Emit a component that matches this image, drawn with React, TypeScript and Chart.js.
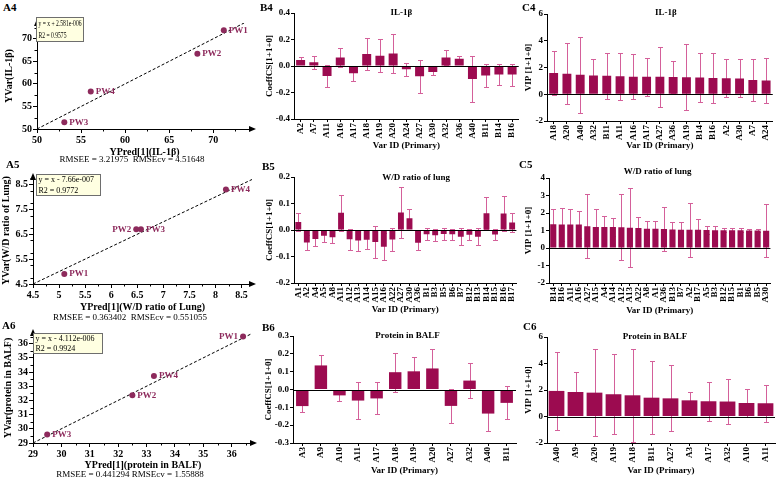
import React, { useEffect, useRef } from 'react';
import { Chart, registerables } from 'chart.js';

Chart.register(...registerables);

const SERIF = '"Liberation Serif", "Times New Roman", serif';
const BAR_COLOR = '#9c0b50';
const ERR_COLOR = '#d4609a';
const POINT_COLOR = '#8d2a5c';

// ---------- A panels (observed vs predicted) ----------
const A4_POINTS = ['PW1', 'PW2', 'PW4', 'PW3'];
const A4_YPRED = [71.2, 68.2, 56.1, 53.1];
const A4_YVAR = [71.9, 66.7, 58.3, 51.5];
const A4_FIT = [50, 73.5];
const A4_XTICKS = [50, 55, 60, 65, 70];
const A4_YTICKS = [50, 55, 60, 65, 70];
const A4_BOX = ['y = x + 2.581e-006', 'R2 = 0.9575'];
const A4_RMSE = 'RMSEE = 3.21975  RMSEcv = 4.51648';

const A5_POINTS = ['PW1', 'PW2', 'PW3', 'PW4'];
const A5_YPRED = [5.1, 6.48, 6.57, 8.2];
const A5_YVAR = [4.9, 6.7, 6.7, 8.3];
const A5_FIT = [4.5, 8.7];
const A5_XTICKS = [4.5, 5, 5.5, 6, 6.5, 7, 7.5, 8, 8.5];
const A5_YTICKS = [4.5, 5, 5.5, 6, 6.5, 7, 7.5, 8, 8.5];
const A5_BOX = ['y = x - 7.66e-007', 'R2 = 0.9772'];
const A5_RMSE = 'RMSEE = 0.363402  RMSEcv = 0.551055';

const A6_POINTS = ['PW1', 'PW4', 'PW2', 'PW3'];
const A6_YPRED = [36.4, 33.26, 32.5, 29.5];
const A6_YVAR = [36.5, 33.72, 32.36, 29.6];
const A6_FIT = [29, 36.7];
const A6_XTICKS = [29, 30, 31, 32, 33, 34, 35, 36];
const A6_YTICKS = [29, 30, 31, 32, 33, 34, 35, 36];
const A6_BOX = ['y = x - 4.112e-006', 'R2 = 0.9924'];
const A6_RMSE = 'RMSEE = 0.441294 RMSEcv = 1.55888';

// ---------- B panels (CoeffCS) ----------
const B4_CATS = ['A2', 'A7', 'A11', 'A16', 'A17', 'A18', 'A19', 'A20', 'A24', 'A27', 'A30', 'A32', 'A36', 'A40', 'B11', 'B14', 'B16'];
const B4_COEF = [0.045, 0.028, -0.075, 0.065, -0.055, 0.09, 0.078, 0.095, -0.025, -0.078, -0.045, 0.065, 0.055, -0.098, -0.072, -0.065, -0.065];
const B4_ERR = [0.02, 0.048, 0.085, 0.072, 0.055, 0.118, 0.122, 0.148, 0.05, 0.125, 0.02, 0.055, 0.02, 0.17, 0.09, 0.078, 0.083];
const B4_YTICKS = [-0.4, -0.2, 0, 0.2, 0.4];

const B5_CATS = ['A1', 'A2', 'A4', 'A5', 'A8', 'A11', 'A12', 'A13', 'A14', 'A15', 'A16', 'A22', 'A27', 'A30', 'A36', 'B1', 'B3', 'B5', 'B6', 'B7', 'B12', 'B13', 'B14', 'B15', 'B16', 'B17'];
const B5_COEF = [0.03, -0.047, -0.034, -0.022, -0.027, 0.065, -0.035, -0.04, -0.037, -0.045, -0.063, -0.036, 0.066, 0.044, -0.048, -0.016, -0.02, -0.015, -0.016, -0.025, -0.018, -0.025, 0.063, -0.017, 0.062, 0.028];
const B5_ERR = [0.033, 0.027, 0.025, 0.022, 0.021, 0.067, 0.039, 0.041, 0.036, 0.059, 0.051, 0.043, 0.098, 0.035, 0.026, 0.022, 0.023, 0.021, 0.021, 0.031, 0.021, 0.033, 0.06, 0.021, 0.065, 0.036];
const B5_YTICKS = [-0.2, -0.1, 0, 0.1, 0.2];

const B6_CATS = ['A3', 'A9', 'A10', 'A11', 'A17', 'A18', 'A19', 'A20', 'A27', 'A32', 'A40', 'B11'];
const B6_COEF = [-0.093, 0.135, -0.033, -0.062, -0.05, 0.097, 0.102, 0.118, -0.092, 0.05, -0.135, -0.075];
const B6_ERR = [0.035, 0.06, 0.03, 0.103, 0.09, 0.11, 0.082, 0.107, 0.097, 0.1, 0.098, 0.093];
const B6_YTICKS = [-0.3, -0.2, -0.1, 0, 0.1, 0.2, 0.3];

// ---------- C panels (VIP) ----------
const C4_CATS = ['A18', 'A20', 'A40', 'A32', 'B11', 'A11', 'A16', 'A17', 'A27', 'A36', 'A19', 'B14', 'B16', 'A2', 'A30', 'A7', 'A24'];
const C4_VIP = [1.58, 1.53, 1.45, 1.4, 1.38, 1.35, 1.31, 1.3, 1.3, 1.29, 1.27, 1.25, 1.22, 1.2, 1.18, 1.07, 1.03];
const C4_ERR = [1.65, 2.28, 2.85, 1.2, 1.72, 1.76, 1.7, 1.44, 2.25, 1.2, 2.45, 1.83, 1.85, 1.43, 1.42, 1.6, 1.67];
const C4_YTICKS = [-2, 0, 2, 4, 6];

const C5_CATS = ['B14', 'B16', 'A11', 'A16', 'A27', 'A15', 'A4', 'A14', 'A12', 'A13', 'A22', 'A8', 'A1', 'A36', 'B13', 'B7', 'A2', 'B17', 'A5', 'B3', 'B12', 'B15', 'B1', 'B6', 'B5', 'A30'];
const C5_VIP = [1.36, 1.35, 1.35, 1.35, 1.25, 1.2, 1.2, 1.2, 1.18, 1.16, 1.15, 1.1, 1.1, 1.08, 1.06, 1.05, 1.05, 1.05, 1.03, 1.02, 1.02, 1.01, 1.01, 1.0, 1.0, 0.99];
const C5_ERR = [0.85, 0.96, 0.85, 0.78, 1.83, 1.0, 0.65, 0.52, 1.88, 2.25, 0.65, 0.43, 0.43, 1.25, 0.42, 0.41, 1.55, 0.58, 0.22, 0.23, 0.13, 0.11, 0.11, 0.11, 0.11, 1.52];
const C5_YTICKS = [-2, -1, 0, 1, 2, 3, 4];

const C6_CATS = ['A40', 'A9', 'A20', 'A19', 'A18', 'B11', 'A27', 'A3', 'A17', 'A32', 'A10', 'A11'];
const C6_VIP = [1.93, 1.85, 1.8, 1.68, 1.6, 1.42, 1.37, 1.22, 1.15, 1.13, 1.02, 1.0];
const C6_ERR = [2.93, 1.5, 3.28, 3.0, 3.5, 2.77, 2.5, 0.63, 1.47, 1.7, 1.05, 1.4];
const C6_YTICKS = [-2, 0, 2, 4, 6];

const TITLE_IL = 'IL-1β';
const TITLE_WD = 'W/D ratio of lung';
const TITLE_PB = 'Protein in BALF';
const X_BAR_TITLE = 'Var ID (Primary)';
const Y_COEF_TITLE = 'CoeffCS[1+1+0]';
const Y_VIP_TITLE = 'VIP [1+1+0]';

function minorsOf(ticks: number[], max: number) {
  const out: number[] = [];
  for (let i = 0; i < ticks.length - 1; i++) out.push((ticks[i] + ticks[i + 1]) / 2);
  const step = ticks[1] - ticks[0];
  const last = ticks[ticks.length - 1] + step / 2;
  if (last < max) out.push(last);
  return out;
}

function scatterConfig(p: any) {
  const xMinor = minorsOf(p.xticks, p.xmax);
  const yMinor = minorsOf(p.yticks, p.ymax);
  const decor = {
    id: 'scatterDecor',
    afterDraw(chart: any) {
      const ctx = chart.ctx;
      const { left, right, top, bottom } = chart.chartArea;
      const xs = chart.scales.x;
      const ys = chart.scales.y;
      ctx.save();
      ctx.fillStyle = '#000';
      ctx.strokeStyle = '#000';
      ctx.lineWidth = 1;
      ctx.beginPath();
      ctx.moveTo(left, top - 4);
      ctx.lineTo(left - 3, top + 3);
      ctx.lineTo(left + 3, top + 3);
      ctx.closePath();
      ctx.fill();
      ctx.beginPath();
      ctx.moveTo(right + 4, bottom);
      ctx.lineTo(right - 3, bottom - 3);
      ctx.lineTo(right - 3, bottom + 3);
      ctx.closePath();
      ctx.fill();
      ctx.beginPath();
      for (const v of xMinor) {
        const x = Math.round(xs.getPixelForValue(v)) + 0.5;
        ctx.moveTo(x, bottom);
        ctx.lineTo(x, bottom + 2.5);
      }
      for (const v of yMinor) {
        const y = Math.round(ys.getPixelForValue(v)) + 0.5;
        ctx.moveTo(left, y);
        ctx.lineTo(left - 2.5, y);
      }
      ctx.stroke();

      // point labels
      const meta = chart.getDatasetMeta(0);
      ctx.font = `bold 9px ${SERIF}`;
      ctx.fillStyle = POINT_COLOR;
      ctx.textBaseline = 'middle';
      meta.data.forEach((el: any, i: number) => {
        const side = p.sides[i];
        ctx.textAlign = side === 'l' ? 'right' : 'left';
        ctx.fillText(p.names[i], el.x + (side === 'l' ? -5 : 5), el.y);
      });

      // equation box
      const bx = Math.round(left + p.box.dx) + 0.5;
      const by = Math.round(top + p.box.dy) + 0.5;
      const bw = p.box.w;
      const bh = p.box.h;
      ctx.fillStyle = '#ffffe1';
      ctx.fillRect(bx, by, bw, bh);
      ctx.strokeStyle = '#6e6e6e';
      ctx.strokeRect(bx, by, bw, bh);
      ctx.font = `8px ${SERIF}`;
      ctx.fillStyle = '#000';
      ctx.textAlign = 'left';
      const widest = Math.max(...p.boxLines.map((s: string) => ctx.measureText(s).width));
      const sx = Math.min(1, (bw - 4) / widest);
      p.boxLines.forEach((s: string, i: number) => {
        ctx.save();
        ctx.translate(bx + 2, by + bh * (i * 2 + 1) / 4 + 0.5);
        ctx.scale(sx, 1);
        ctx.fillText(s, 0, 0);
        ctx.restore();
      });
      ctx.restore();
    },
  };
  const tickFont = { family: SERIF, size: 10, weight: 'bold' as const };
  const titleFont = { family: SERIF, size: 10, weight: 'bold' as const };
  return {
    type: 'scatter' as const,
    data: {
      datasets: [
        {
          data: p.xs.map((x: number, i: number) => ({ x, y: p.ys[i] })),
          backgroundColor: POINT_COLOR,
          borderColor: POINT_COLOR,
          pointRadius: 3,
          borderWidth: 0,
        },
        {
          type: 'line' as const,
          data: p.fit.map((v: number) => ({ x: v, y: v })),
          borderColor: '#000',
          borderWidth: 1,
          borderDash: [3, 2],
          pointRadius: 0,
          fill: false,
        },
      ],
    },
    options: {
      responsive: false,
      animation: false as const,
      devicePixelRatio: 1,
      layout: { padding: { top: p.padTop, right: p.padRight, left: 0, bottom: 0 } },
      plugins: { legend: { display: false }, tooltip: { enabled: false } },
      scales: {
        x: {
          type: 'linear' as const,
          min: p.xmin,
          max: p.xmax,
          afterBuildTicks: (ax: any) => { ax.ticks = p.xticks.map((v: number) => ({ value: v })); },
          afterFit: (s: any) => { s.height = p.xH; },
          grid: { drawOnChartArea: false, tickLength: 4, color: '#000' },
          border: { color: '#000', width: 1 },
          ticks: { font: tickFont, color: '#000', padding: 1, maxRotation: 0, callback: (v: any) => String(v) },
          title: { display: true, text: p.xTitle, font: titleFont, color: '#000', padding: { top: 0, bottom: 2 } },
        },
        y: {
          type: 'linear' as const,
          min: p.ymin,
          max: p.ymax,
          afterBuildTicks: (ax: any) => { ax.ticks = p.yticks.map((v: number) => ({ value: v })); },
          afterFit: (s: any) => { s.width = p.yW; },
          grid: { drawOnChartArea: false, tickLength: 4, color: '#000' },
          border: { color: '#000', width: 1 },
          ticks: { font: tickFont, color: '#000', padding: 1, callback: (v: any) => String(v) },
          title: { display: true, text: p.yTitle, font: titleFont, color: '#000', padding: { top: p.yTitlePad, bottom: 0 } },
        },
      },
    },
    plugins: [decor],
  };
}

function barConfig(p: any) {
  const decor = {
    id: 'barDecor',
    beforeDatasetsDraw(chart: any) {
      const ctx = chart.ctx;
      const ys = chart.scales.y;
      const meta = chart.getDatasetMeta(0);
      ctx.save();
      ctx.strokeStyle = ERR_COLOR;
      ctx.lineWidth = 1;
      meta.data.forEach((el: any, i: number) => {
        const v = p.vals[i];
        const e = p.errs[i];
        const x = Math.round(el.x) + 0.5;
        const y1 = Math.round(ys.getPixelForValue(v - e)) + 0.5;
        const y2 = Math.round(ys.getPixelForValue(v + e)) + 0.5;
        ctx.beginPath();
        ctx.moveTo(x, y1);
        ctx.lineTo(x, y2);
        ctx.moveTo(x - 2.5, y1);
        ctx.lineTo(x + 2.5, y1);
        ctx.moveTo(x - 2.5, y2);
        ctx.lineTo(x + 2.5, y2);
        ctx.stroke();
      });
      ctx.restore();
    },
    afterDatasetsDraw(chart: any) {
      const ctx = chart.ctx;
      const { left, right, top } = chart.chartArea;
      const ys = chart.scales.y;
      const y0 = Math.round(ys.getPixelForValue(0)) + 0.5;
      ctx.save();
      ctx.strokeStyle = '#000';
      ctx.lineWidth = 1.2;
      ctx.beginPath();
      ctx.moveTo(left, y0);
      ctx.lineTo(right, y0);
      ctx.stroke();
      ctx.font = `bold 9px ${SERIF}`;
      ctx.fillStyle = '#000';
      ctx.textAlign = 'center';
      ctx.textBaseline = 'middle';
      ctx.fillText(p.title, (left + right) / 2 + p.titleDx, top + p.titleDy);
      ctx.restore();
    },
  };
  const tickFont = { family: SERIF, size: 9, weight: 'bold' as const };
  const titleFont = { family: SERIF, size: 9, weight: 'bold' as const };
  return {
    type: 'bar' as const,
    data: {
      labels: p.cats,
      datasets: [
        {
          data: p.vals,
          backgroundColor: BAR_COLOR,
          borderWidth: 0,
          barPercentage: p.barPct,
          categoryPercentage: 1,
        },
      ],
    },
    options: {
      responsive: false,
      animation: false as const,
      devicePixelRatio: 1,
      layout: { padding: { top: p.padTop, right: p.padRight, left: 0, bottom: 0 } },
      plugins: { legend: { display: false }, tooltip: { enabled: false } },
      scales: {
        x: {
          afterFit: (s: any) => { s.height = p.xH; },
          grid: { offset: false, drawOnChartArea: false, tickLength: 3, color: '#000' },
          border: { color: '#000', width: 1 },
          ticks: { autoSkip: false, minRotation: 90, maxRotation: 90, font: tickFont, color: '#000', padding: 1 },
          title: { display: true, text: X_BAR_TITLE, font: titleFont, color: '#000', padding: { top: 0, bottom: 4 } },
        },
        y: {
          min: p.yticks[0],
          max: p.yticks[p.yticks.length - 1],
          afterBuildTicks: (ax: any) => { ax.ticks = p.yticks.map((v: number) => ({ value: v })); },
          afterFit: (s: any) => { s.width = p.yW; },
          grid: { drawOnChartArea: false, tickLength: 3, color: '#000' },
          border: { color: '#000', width: 1 },
          ticks: { font: tickFont, color: '#000', padding: 1, callback: (v: any) => (p.dec ? Number(v).toFixed(p.dec) : String(v)) },
          title: { display: true, text: p.yTitle, font: titleFont, color: '#000', padding: { top: 4, bottom: 0 } },
        },
      },
    },
    plugins: [decor],
  };
}

function ChartBox({ make, left, top, width, height }: any) {
  const ref = useRef<HTMLCanvasElement>(null);
  useEffect(() => {
    const chart = new Chart(ref.current as HTMLCanvasElement, make() as any);
    return () => chart.destroy();
  }, []);
  return (
    <canvas
      ref={ref}
      width={width}
      height={height}
      style={{ position: 'absolute', left, top, width, height }}
    />
  );
}

const scatterPanels = [
  {
    pos: { left: 0, top: 14, width: 258, height: 146 },
    cfg: {
      names: A4_POINTS, xs: A4_YPRED, ys: A4_YVAR, fit: A4_FIT, xticks: A4_XTICKS, yticks: A4_YTICKS,
      xmin: 50, xmax: 74.4, ymin: 50, ymax: 73.5, boxLines: A4_BOX,
      xTitle: 'YPred[1](IL-1β)', yTitle: 'YVar(IL-1β)',
      sides: ['r', 'r', 'r', 'r'], box: { dx: -1, dy: -6, w: 47, h: 24 },
      padTop: 9, padRight: 6, yW: 37, xH: 31, yTitlePad: 3,
    },
  },
  {
    pos: { left: 0, top: 165, width: 258, height: 150 },
    cfg: {
      names: A5_POINTS, xs: A5_YPRED, ys: A5_YVAR, fit: A5_FIT, xticks: A5_XTICKS, yticks: A5_YTICKS,
      xmin: 4.5, xmax: 8.7, ymin: 4.5, ymax: 8.8, boxLines: A5_BOX,
      xTitle: 'YPred[1](W/D ratio of Lung)', yTitle: 'YVar(W/D ratio of Lung)',
      sides: ['r', 'l', 'r', 'r'], box: { dx: 3, dy: -3, w: 64, h: 21 },
      padTop: 12, padRight: 6, yW: 33, xH: 31, yTitlePad: 0,
    },
  },
  {
    pos: { left: 0, top: 320, width: 258, height: 153 },
    cfg: {
      names: A6_POINTS, xs: A6_YPRED, ys: A6_YVAR, fit: A6_FIT, xticks: A6_XTICKS, yticks: A6_YTICKS,
      xmin: 29, xmax: 36.75, ymin: 29, ymax: 36.75, boxLines: A6_BOX,
      xTitle: 'YPred[1](protein in BALF)', yTitle: 'YVar(protein in BALF)',
      sides: ['l', 'r', 'r', 'r'], box: { dx: 0, dy: 0, w: 69, h: 20 },
      padTop: 13, padRight: 5, yW: 33, xH: 30, yTitlePad: 2,
    },
  },
];

const barPanels = [
  {
    pos: { left: 260, top: 4, width: 264, height: 151 },
    cfg: { cats: B4_CATS, vals: B4_COEF, errs: B4_ERR, yticks: B4_YTICKS, dec: 1, yTitle: Y_COEF_TITLE, title: TITLE_IL,
      titleDx: -5, titleDy: 0, barPct: 0.68, padTop: 9, padRight: 3, yW: 34, xH: 36 },
  },
  {
    pos: { left: 260, top: 163, width: 264, height: 156 },
    cfg: { cats: B5_CATS, vals: B5_COEF, errs: B5_ERR, yticks: B5_YTICKS, dec: 1, yTitle: Y_COEF_TITLE, title: TITLE_WD,
      titleDx: 11, titleDy: 1, barPct: 0.69, padTop: 14, padRight: 3, yW: 34, xH: 36 },
  },
  {
    pos: { left: 259, top: 322, width: 264, height: 158 },
    cfg: { cats: B6_CATS, vals: B6_COEF, errs: B6_ERR, yticks: B6_YTICKS, dec: 1, yTitle: Y_COEF_TITLE, title: TITLE_PB,
      titleDx: 3, titleDy: 0, barPct: 0.67, padTop: 14, padRight: 7, yW: 34, xH: 37 },
  },
  {
    pos: { left: 519, top: 4, width: 259, height: 151 },
    cfg: { cats: C4_CATS, vals: C4_VIP, errs: C4_ERR, yticks: C4_YTICKS, dec: 0, yTitle: Y_VIP_TITLE, title: TITLE_IL,
      titleDx: 6, titleDy: -1, barPct: 0.67, padTop: 10, padRight: 3, yW: 28, xH: 34 },
  },
  {
    pos: { left: 519, top: 164, width: 259, height: 156 },
    cfg: { cats: C5_CATS, vals: C5_VIP, errs: C5_ERR, yticks: C5_YTICKS, dec: 0, yTitle: Y_VIP_TITLE, title: TITLE_WD,
      titleDx: -2, titleDy: -6, barPct: 0.72, padTop: 14, padRight: 3, yW: 30, xH: 37 },
  },
  {
    pos: { left: 519, top: 322, width: 259, height: 158 },
    cfg: { cats: C6_CATS, vals: C6_VIP, errs: C6_ERR, yticks: C6_YTICKS, dec: 0, yTitle: Y_VIP_TITLE, title: TITLE_PB,
      titleDx: -6, titleDy: 0, barPct: 0.83, padTop: 15, padRight: 3, yW: 28, xH: 37 },
  },
];

const panelLetters = [
  { t: 'A4', x: 3, y: 7 }, { t: 'B4', x: 260, y: 7 }, { t: 'C4', x: 522, y: 7 },
  { t: 'A5', x: 6, y: 164 }, { t: 'B5', x: 262, y: 166 }, { t: 'C5', x: 519, y: 164 },
  { t: 'A6', x: 2, y: 325 }, { t: 'B6', x: 262, y: 327 }, { t: 'C6', x: 523, y: 326 },
];

const rmseLines = [
  { t: A4_RMSE, x: 132, y: 159 },
  { t: A5_RMSE, x: 130, y: 317 },
  { t: A6_RMSE, x: 130, y: 474 },
];

export default function App() {
  return (
    <div style={{ position: 'absolute', left: 0, top: 0, width: 778, height: 480, background: '#fff', overflow: 'hidden', fontFamily: SERIF }}>
      {scatterPanels.map((p, i) => (
        <ChartBox key={'s' + i} {...p.pos} make={() => scatterConfig(p.cfg)} />
      ))}
      {barPanels.map((p, i) => (
        <ChartBox key={'b' + i} {...p.pos} make={() => barConfig(p.cfg)} />
      ))}
      {rmseLines.map((r, i) => (
        <div key={'r' + i} style={{ position: 'absolute', left: r.x - 130, top: r.y - 6, width: 260, height: 12, lineHeight: '12px', fontSize: 9, textAlign: 'center', color: '#000', whiteSpace: 'pre' }}>
          {r.t}
        </div>
      ))}
      {panelLetters.map((l, i) => (
        <div key={'l' + i} style={{ position: 'absolute', left: l.x, top: l.y - 7, height: 14, lineHeight: '14px', fontSize: 11, fontWeight: 'bold', color: '#000' }}>
          {l.t}
        </div>
      ))}
    </div>
  );
}
